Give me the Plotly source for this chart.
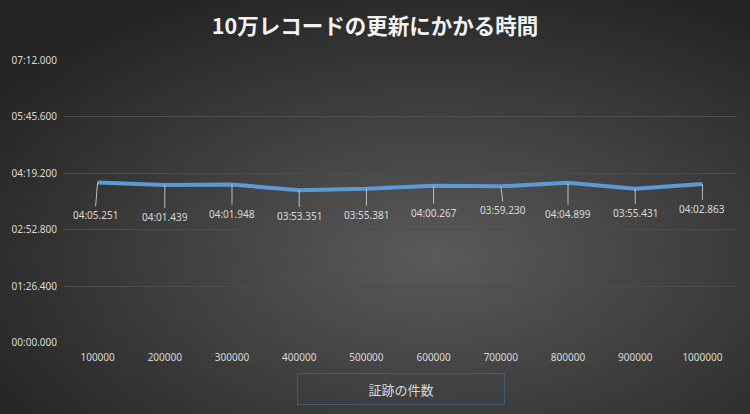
import base64

import plotly.graph_objects as go

# 証跡の件数 (categories) and update time in seconds
record_counts = ["100000", "200000", "300000", "400000", "500000",
                 "600000", "700000", "800000", "900000", "1000000"]
update_seconds = [245.251, 241.439, 241.948, 233.351, 235.381,
                  240.267, 239.230, 244.899, 235.431, 242.863]
label_shift_x = [-2, 0, 0, 0, 0, 0, 2, 0, 0, 0]
label_drop_y = [24, 23, 20, 17, 17, 18, 15, 22, 15, 16]

TICK_STEP = 86.4  # 0.001 day
tick_vals = [TICK_STEP * i for i in range(6)]


def fmt_time(sec: float) -> str:
    m = int(sec // 60)
    s = sec - m * 60
    return f"{m:02d}:{s:06.3f}"


W, H = 750, 414
L, R, T, B = 64, 14, 60, 71

svg = f"""<svg xmlns='http://www.w3.org/2000/svg' width='{W}' height='{H}'>
<defs><radialGradient id='g' cx='58%' cy='62%' r='70%'>
<stop offset='0%' stop-color='#5a5a5a'/>
<stop offset='100%' stop-color='#242424'/>
</radialGradient></defs>
<rect width='{W}' height='{H}' fill='url(#g)'/></svg>"""
bg_uri = "data:image/svg+xml;base64," + base64.b64encode(svg.encode()).decode()

pw, ph = W - L - R, H - T - B
xpos = list(range(len(record_counts)))

fig = go.Figure()
fig.add_trace(go.Scatter(
    x=xpos,
    y=update_seconds,
    mode="lines",
    line=dict(color="#5b9bd5", width=4),
    hoverinfo="skip",
    showlegend=False,
))

for xi, val, dx, dy in zip(xpos, update_seconds, label_shift_x, label_drop_y):
    fig.add_annotation(
        x=xi, y=val, text=fmt_time(val),
        showarrow=True, arrowhead=0, arrowwidth=1, arrowcolor="#bfbfbf",
        ax=dx, ay=dy, standoff=0,
        font=dict(family="Noto Sans", size=10, color="#d9d9d9"),
        yanchor="top",
    )

fig.add_annotation(
    xref="paper", yref="paper", x=(401 - L) / pw, y=-(405 - (H - B)) / ph,
    yanchor="bottom", text="証跡の件数", showarrow=False,
    width=200, height=24, bordercolor="#3c5d7a", borderwidth=1, borderpad=3,
    font=dict(family="Noto Sans CJK JP", size=13, color="#d9d9d9"),
)

fig.add_layout_image(
    source=bg_uri, xref="paper", yref="paper",
    x=-L / pw, y=1 + T / ph, sizex=W / pw, sizey=H / ph,
    xanchor="left", yanchor="top", sizing="stretch", layer="below",
)

fig.update_layout(
    width=W, height=H,
    margin=dict(l=L, r=R, t=T, b=B),
    paper_bgcolor="#2c2c2c",
    plot_bgcolor="rgba(0,0,0,0)",
    title=dict(
        text="<b>10万レコードの更新にかかる時間</b>",
        x=0.5, xanchor="center", y=0.935, yanchor="middle",
        font=dict(family="Noto Sans CJK JP", size=21.5, color="#f2f2f2"),
    ),
    xaxis=dict(
        range=[-0.5, len(record_counts) - 0.5], tickvals=xpos,
        ticktext=record_counts, automargin=False, ticklabelstandoff=7,
        showgrid=False, zeroline=False, showline=False,
        ticks="", tickfont=dict(family="Noto Sans", size=10, color="#d9d9d9"),
    ),
    yaxis=dict(
        range=[-0.8, tick_vals[-1] + 0.8], tickvals=tick_vals,
        ticktext=[fmt_time(v) for v in tick_vals], automargin=False,
        showgrid=True, gridcolor="#4d4d4d", gridwidth=1,
        zeroline=False, showline=False, ticks="", ticklabelstandoff=6,
        tickfont=dict(family="Noto Sans", size=10, color="#d9d9d9"),
    ),
)

fig.write_html(
    "out.html",
    config={"displayModeBar": False},
    post_script="document.body.style.margin='0';",
)
